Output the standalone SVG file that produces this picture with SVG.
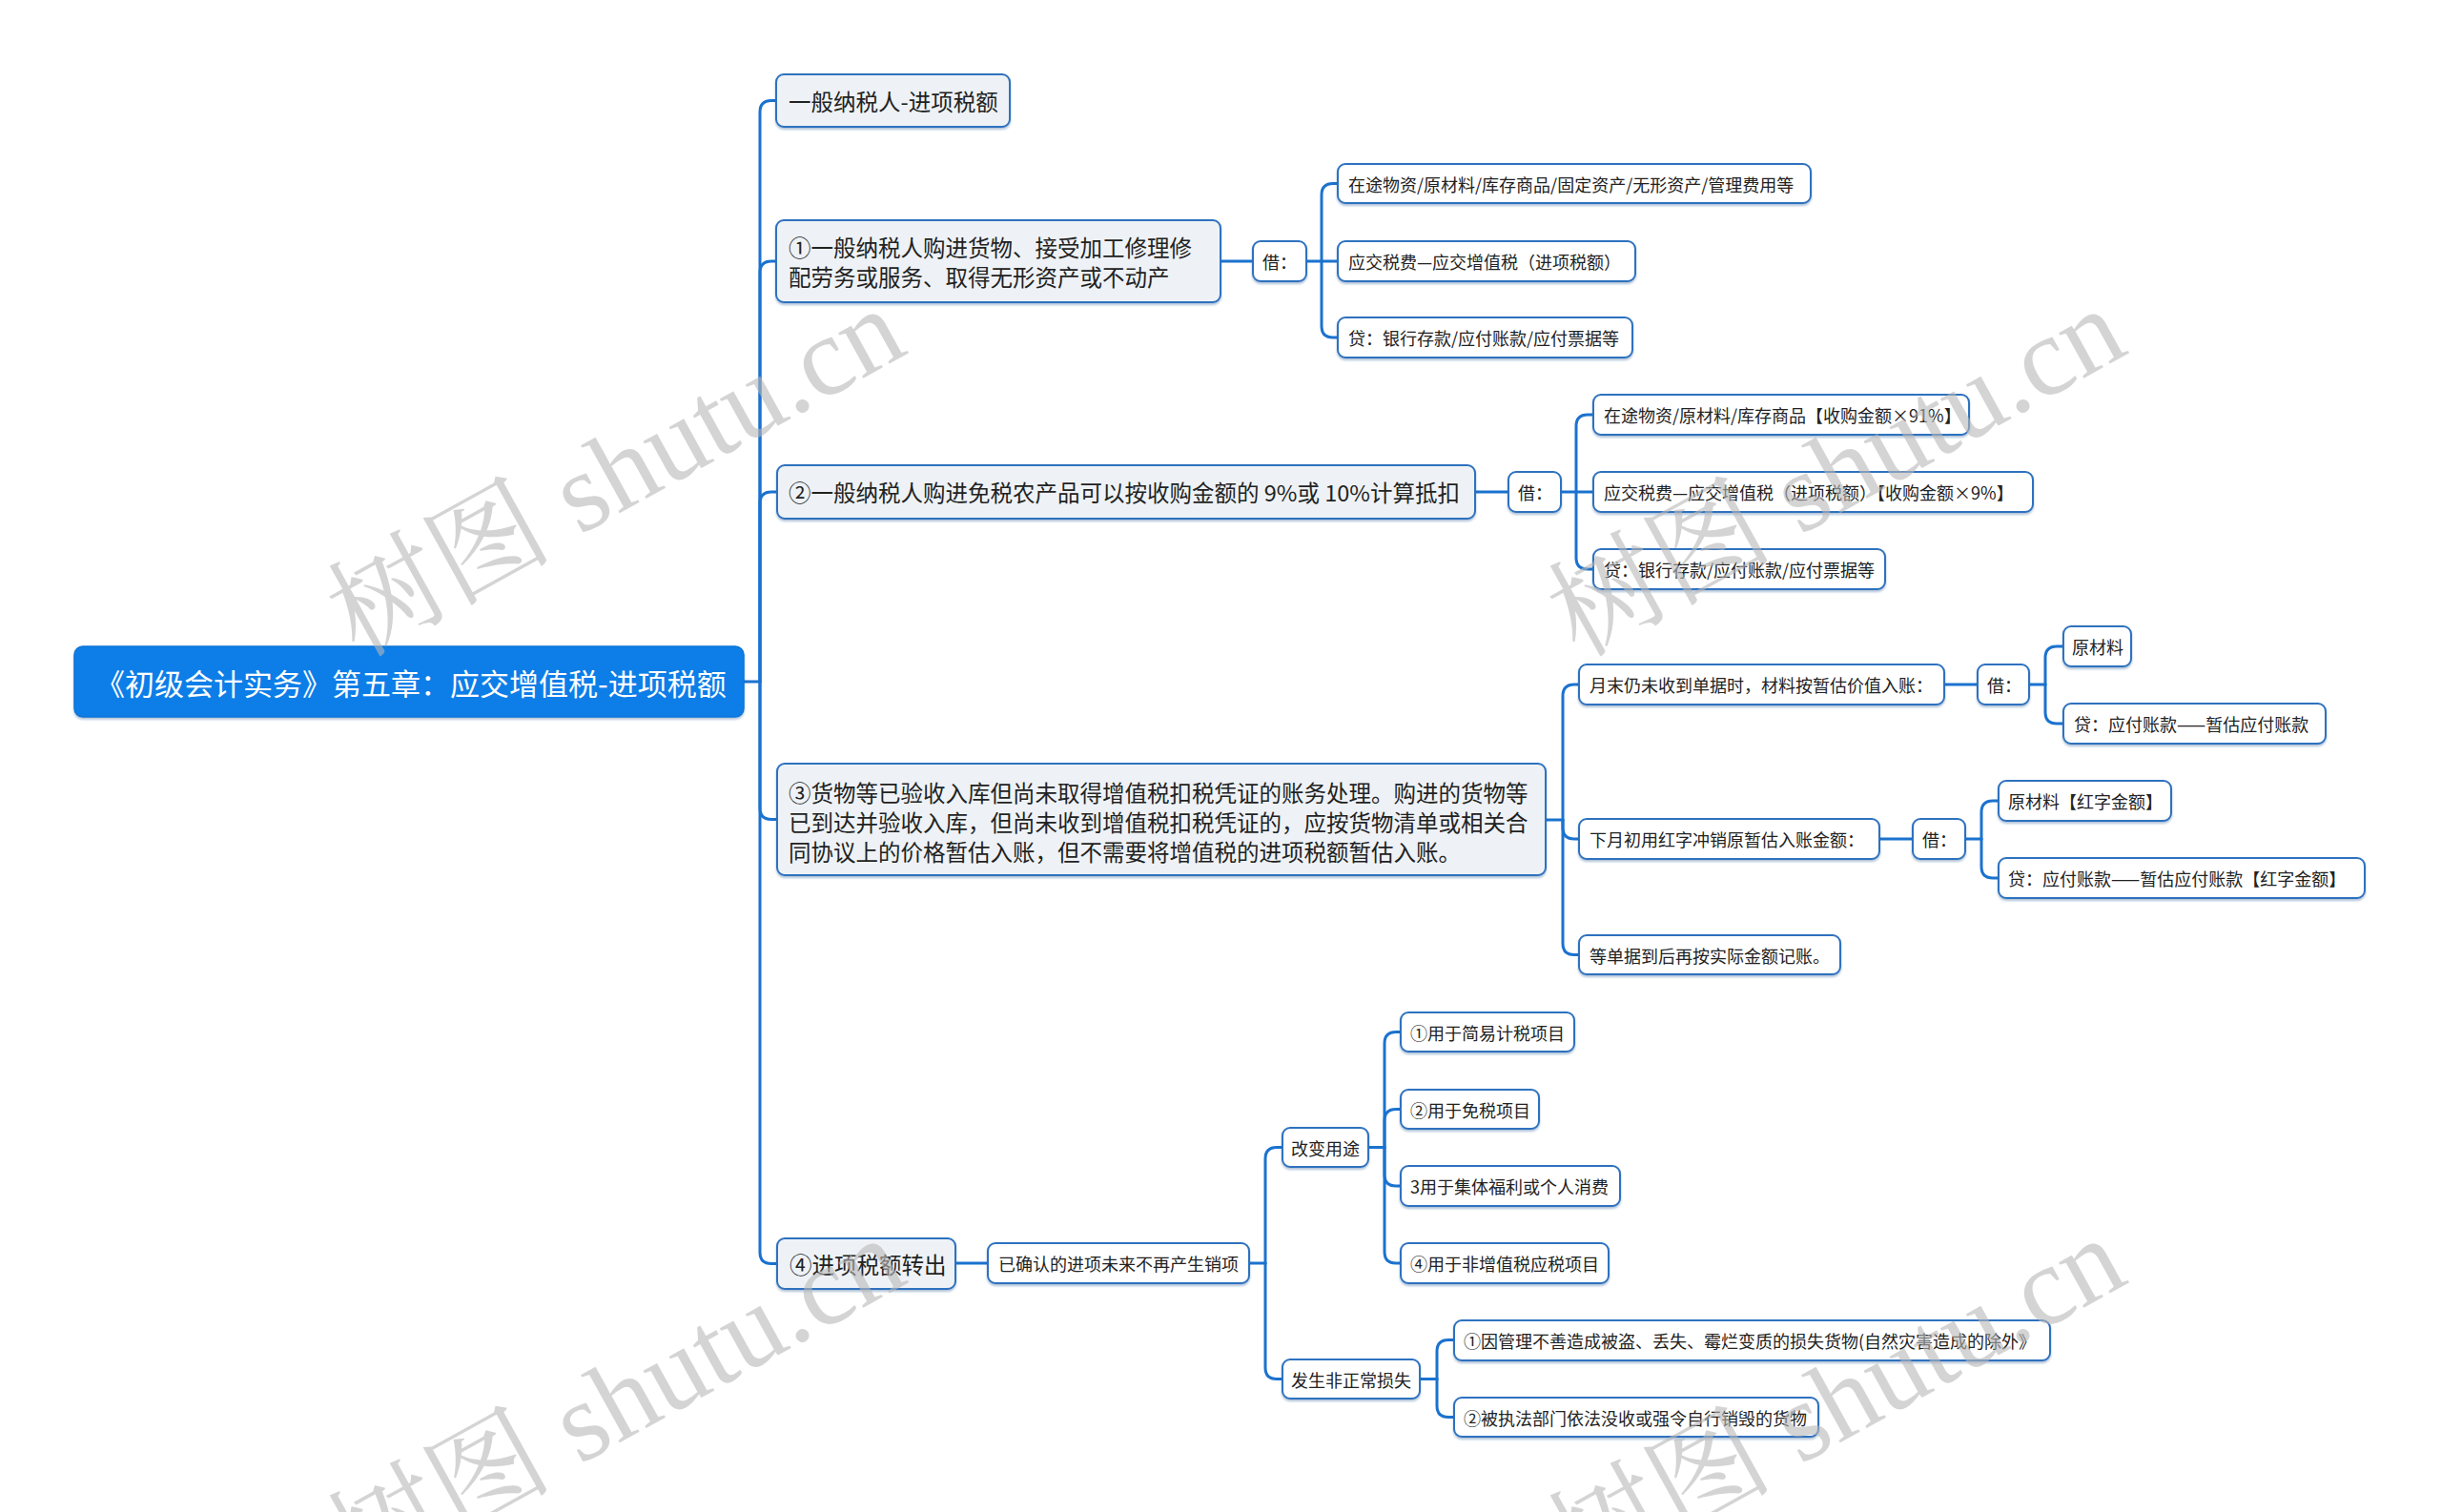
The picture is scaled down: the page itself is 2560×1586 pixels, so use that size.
<svg xmlns="http://www.w3.org/2000/svg" width="2560" height="1586" viewBox="0 0 2560 1586">
<defs>
<filter id="sh" x="-5%" y="-20%" width="110%" height="150%">
<feDropShadow dx="0" dy="2" stdDeviation="1.2" flood-color="#1a4f8f" flood-opacity="0.35"/>
</filter>
</defs>
<style>
text{font-family:"Noto Sans CJK SC","Noto Sans",sans-serif;dominant-baseline:central;fill:#222}
.root rect{fill:#0b7ee8;stroke:#0a74d6;stroke-width:1.5}
.root text{fill:#fff;font-size:31px}
.l1 rect{fill:#eef2f6;stroke:#2f72bf;stroke-width:2}
.l1 text{font-size:23.5px}
.sm rect{fill:#fff;stroke:#2f72bf;stroke-width:2}
.sm text{font-size:18px}
#connectors path{fill:none;stroke:#1b72cf;stroke-width:3;stroke-linecap:round}
.wm{font-family:"Liberation Serif","Noto Serif CJK SC","Noto Sans CJK SC",serif;font-size:118px;fill:#b8b8b8;fill-opacity:0.6;dominant-baseline:alphabetic}
</style>
<rect width="2560" height="1586" fill="#fff"/>

<g id="connectors">
<path d="M780,715 H797"/>
<path d="M797,715 V117.5 Q797,105.5 809,105.5 H814"/>
<path d="M797,715 V286 Q797,274 809,274 H814"/>
<path d="M797,715 V528 Q797,516 809,516 H815"/>
<path d="M797,715 V847.5 Q797,859.5 809,859.5 H815"/>
<path d="M797,715 V1313.5 Q797,1325.5 809,1325.5 H815"/>

<path d="M1280,274 H1314"/>
<path d="M1370,274 H1386"/>
<path d="M1386,274 V204.5 Q1386,192.5 1398,192.5 H1403"/>
<path d="M1386,274 H1403"/>
<path d="M1386,274 V342 Q1386,354 1398,354 H1403"/>

<path d="M1547,516 H1582"/>
<path d="M1637,516 H1653"/>
<path d="M1653,516 V447 Q1653,435 1665,435 H1671"/>
<path d="M1653,516 H1671"/>
<path d="M1653,516 V585 Q1653,597 1665,597 H1671"/>

<path d="M1621,860 H1639"/>
<path d="M1639,860 V730 Q1639,718 1651,718 H1656"/>
<path d="M1639,860 V868 Q1639,880 1651,880 H1656"/>
<path d="M1639,860 V989.5 Q1639,1001.5 1651,1001.5 H1656"/>

<path d="M2039,718 H2074"/>
<path d="M2128,718 H2145"/>
<path d="M2145,718 V690 Q2145,678 2157,678 H2164"/>
<path d="M2145,718 V747 Q2145,759 2157,759 H2164"/>

<path d="M1971,880 H2006"/>
<path d="M2061,880 H2078"/>
<path d="M2078,880 V852 Q2078,840 2090,840 H2096"/>
<path d="M2078,880 V909 Q2078,921 2090,921 H2096"/>

<path d="M1002,1325 H1036"/>
<path d="M1310,1325 H1327"/>
<path d="M1327,1325 V1215.5 Q1327,1203.5 1339,1203.5 H1345"/>
<path d="M1327,1325 V1434.5 Q1327,1446.5 1339,1446.5 H1345"/>

<path d="M1435,1203.5 H1452"/>
<path d="M1452,1203.5 V1094.5 Q1452,1082.5 1464,1082.5 H1469"/>
<path d="M1452,1203.5 V1175.5 Q1452,1163.5 1464,1163.5 H1469"/>
<path d="M1452,1203.5 V1232 Q1452,1244 1464,1244 H1469"/>
<path d="M1452,1203.5 V1313 Q1452,1325 1464,1325 H1469"/>

<path d="M1489,1446.5 H1507"/>
<path d="M1507,1446.5 V1417.5 Q1507,1405.5 1519,1405.5 H1525"/>
<path d="M1507,1446.5 V1474.5 Q1507,1486.5 1519,1486.5 H1525"/>
</g>

<g id="root" class="root"><rect x="78" y="678" width="702" height="74" rx="9" filter="url(#sh)"/><text x="431" y="715" text-anchor="middle">《初级会计实务》第五章：应交增值税-进项税额</text></g>

<g id="n1" class="l1"><rect x="814" y="78" width="245" height="55" rx="8" filter="url(#sh)"/><text x="827" y="105.5">一般纳税人-进项税额</text></g>
<g id="n2" class="l1"><rect x="814" y="231" width="466" height="86" rx="8" filter="url(#sh)"/><text x="827" y="259">①一般纳税人购进货物、接受加工修理修</text><text x="827" y="290">配劳务或服务、取得无形资产或不动产</text></g>
<g id="n3" class="l1"><rect x="815" y="488" width="732" height="56" rx="8" filter="url(#sh)"/><text x="827" y="516">②一般纳税人购进免税农产品可以按收购金额的 9%或 10%计算抵扣</text></g>
<g id="n4" class="l1"><rect x="815" y="801" width="806" height="117" rx="8" filter="url(#sh)"/><text x="827" y="831">③货物等已验收入库但尚未取得增值税扣税凭证的账务处理。购进的货物等</text><text x="827" y="862">已到达并验收入库，但尚未收到增值税扣税凭证的，应按货物清单或相关合</text><text x="827" y="893">同协议上的价格暂估入账，但不需要将增值税的进项税额暂估入账。</text></g>
<g id="n5" class="l1"><rect x="815" y="1299" width="187" height="53" rx="8" filter="url(#sh)"/><text x="828" y="1325.5">④进项税额转出</text></g>

<g id="a1" class="sm"><rect x="1314" y="253" width="56" height="42" rx="8" filter="url(#sh)"/><text x="1324" y="274">借：</text></g>
<g id="a2" class="sm"><rect x="1403" y="172" width="496" height="41" rx="8" filter="url(#sh)"/><text x="1414" y="192.5">在途物资/原材料/库存商品/固定资产/无形资产/管理费用等</text></g>
<g id="a3" class="sm"><rect x="1403" y="253" width="312" height="42" rx="8" filter="url(#sh)"/><text x="1414" y="274">应交税费—应交增值税（进项税额）</text></g>
<g id="a4" class="sm"><rect x="1403" y="333" width="309" height="42" rx="8" filter="url(#sh)"/><text x="1414" y="354">贷：银行存款/应付账款/应付票据等</text></g>

<g id="b1" class="sm"><rect x="1582" y="495" width="55" height="42" rx="8" filter="url(#sh)"/><text x="1592" y="516">借：</text></g>
<g id="b2" class="sm"><rect x="1671" y="414" width="394" height="42" rx="8" filter="url(#sh)"/><text x="1682" y="435">在途物资/原材料/库存商品【收购金额×91%】</text></g>
<g id="b3" class="sm"><rect x="1671" y="495" width="461" height="42" rx="8" filter="url(#sh)"/><text x="1682" y="516">应交税费—应交增值税（进项税额）【收购金额×9%】</text></g>
<g id="b4" class="sm"><rect x="1671" y="576" width="306" height="42" rx="8" filter="url(#sh)"/><text x="1682" y="597">贷：银行存款/应付账款/应付票据等</text></g>

<g id="c1" class="sm"><rect x="1656" y="697" width="383" height="42" rx="8" filter="url(#sh)"/><text x="1667" y="718">月末仍未收到单据时，材料按暂估价值入账：</text></g>
<g id="c2" class="sm"><rect x="2074" y="697" width="54" height="42" rx="8" filter="url(#sh)"/><text x="2084" y="718">借：</text></g>
<g id="c3" class="sm"><rect x="2164" y="657" width="71" height="42" rx="8" filter="url(#sh)"/><text x="2173" y="678">原材料</text></g>
<g id="c4" class="sm"><rect x="2164" y="738" width="275" height="42" rx="8" filter="url(#sh)"/><text x="2175" y="759">贷：应付账款——暂估应付账款</text></g>
<g id="c5" class="sm"><rect x="1656" y="859" width="315" height="42" rx="8" filter="url(#sh)"/><text x="1667" y="880">下月初用红字冲销原暂估入账金额：</text></g>
<g id="c6" class="sm"><rect x="2006" y="859" width="55" height="42" rx="8" filter="url(#sh)"/><text x="2016" y="880">借：</text></g>
<g id="c7" class="sm"><rect x="2096" y="819" width="181" height="42" rx="8" filter="url(#sh)"/><text x="2106" y="840">原材料【红字金额】</text></g>
<g id="c8" class="sm"><rect x="2096" y="900" width="384" height="42" rx="8" filter="url(#sh)"/><text x="2106" y="921">贷：应付账款——暂估应付账款【红字金额】</text></g>
<g id="c9" class="sm"><rect x="1656" y="981" width="274" height="41" rx="8" filter="url(#sh)"/><text x="1667" y="1001.5">等单据到后再按实际金额记账。</text></g>

<g id="d1" class="sm"><rect x="1036" y="1304" width="274" height="42" rx="8" filter="url(#sh)"/><text x="1047" y="1325">已确认的进项未来不再产生销项</text></g>
<g id="d2" class="sm"><rect x="1345" y="1183" width="90" height="41" rx="8" filter="url(#sh)"/><text x="1354" y="1203.5">改变用途</text></g>
<g id="d3" class="sm"><rect x="1469" y="1062" width="182" height="41" rx="8" filter="url(#sh)"/><text x="1479" y="1082.5">①用于简易计税项目</text></g>
<g id="d4" class="sm"><rect x="1469" y="1143" width="145" height="41" rx="8" filter="url(#sh)"/><text x="1479" y="1163.5">②用于免税项目</text></g>
<g id="d5" class="sm"><rect x="1469" y="1223" width="230" height="42" rx="8" filter="url(#sh)"/><text x="1479" y="1244">3用于集体福利或个人消费</text></g>
<g id="d6" class="sm"><rect x="1469" y="1304" width="218" height="42" rx="8" filter="url(#sh)"/><text x="1479" y="1325">④用于非增值税应税项目</text></g>
<g id="d7" class="sm"><rect x="1345" y="1426" width="144" height="41" rx="8" filter="url(#sh)"/><text x="1354" y="1446.5">发生非正常损失</text></g>
<g id="d8" class="sm"><rect x="1525" y="1385" width="625" height="42" rx="8" filter="url(#sh)"/><text x="1535" y="1406">①因管理不善造成被盗、丢失、霉烂变质的损失货物(自然灾害造成的除外》</text></g>
<g id="d9" class="sm"><rect x="1525" y="1466" width="382" height="41" rx="8" filter="url(#sh)"/><text x="1535" y="1486.5">②被执法部门依法没收或强令自行销毁的货物</text></g>

<g id="watermarks">
<text class="wm" x="665" y="530" text-anchor="middle" transform="rotate(-29 665 530)">树图 shutu.cn</text>
<text class="wm" x="1945" y="530" text-anchor="middle" transform="rotate(-29 1945 530)">树图 shutu.cn</text>
<text class="wm" x="665" y="1505" text-anchor="middle" transform="rotate(-29 665 1505)">树图 shutu.cn</text>
<text class="wm" x="1945" y="1505" text-anchor="middle" transform="rotate(-29 1945 1505)">树图 shutu.cn</text>
</g>
</svg>
